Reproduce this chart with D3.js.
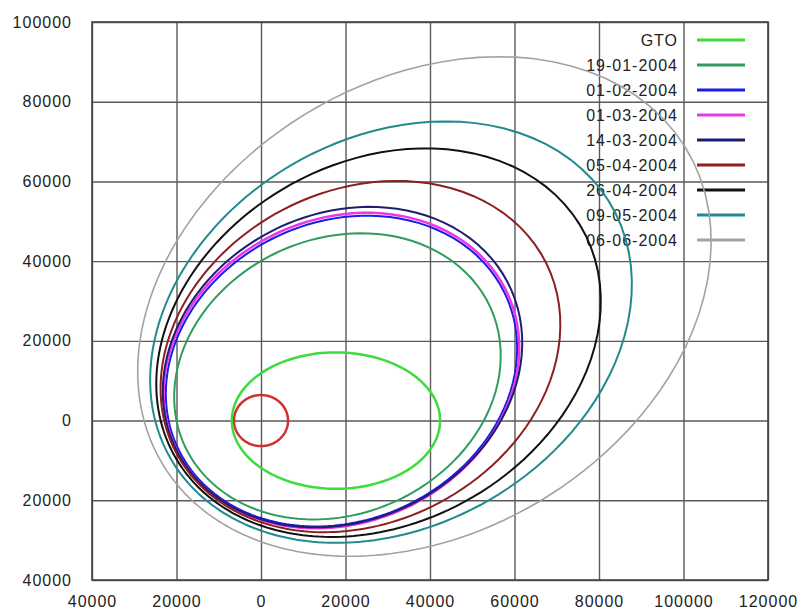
<!DOCTYPE html>
<html>
<head>
<meta charset="utf-8">
<script src="https://cdn.jsdelivr.net/npm/d3@7"></script>
<style>
  body { margin: 0; background: #fff; }
  text { font-family: "Liberation Sans", Arial, sans-serif; }
</style>
</head>
<body>
<script>
// orbit data (km)
let orbitNames = ["GTO", "19-01-2004", "01-02-2004", "01-03-2004", "14-03-2004",
    "05-04-2004", "26-04-2004", "09-05-2004", "06-06-2004"];
let perigee = [6900, 18980, 20650, 21110, 21100, 21460, 22120, 23230, 25530];
let apogee = [42400, 61430, 66140, 66730, 68100, 78460, 90130, 99120, 121770];
let argPerigee = [180, 211.5, 213.1, 213.4, 214.8, 214.3, 215.1, 215.8, 216.5];
let orbitColors = ["#3ddc3d", "#2f9d5e", "#1c1ce6", "#e838e8", "#1e1e70",
    "#8c2020", "#111111", "#22898f", "#a2a2a2"];
let orbitWidths = [2.5, 2, 2, 2.5, 2, 2, 2, 2, 1.6];
let earthRadius = 6400;

let xTicks = [-40000, -20000, 0, 20000, 40000, 60000, 80000, 100000, 120000];
let yTicks = [-40000, -20000, 0, 20000, 40000, 60000, 80000, 100000];

let svgWidth = 797;
let svgHeight = 612;
let margin = { top: 22, right: 29, bottom: 32, left: 92 };
let chartWidth = svgWidth - margin.left - margin.right;
let chartHeight = svgHeight - margin.top - margin.bottom;

let svg = d3.select("body")
    .append("svg")
    .attr("width", svgWidth)
    .attr("height", svgHeight);

let chartGroup = svg.append("g")
    .attr("transform", `translate(${margin.left}, ${margin.top})`);

let xScale = d3.scaleLinear().domain([-40000, 120000]).range([0, chartWidth]);
let yScale = d3.scaleLinear().domain([-40000, 100000]).range([chartHeight, 0]);

// grid + labels
let xAxis = chartGroup.append("g")
    .attr("transform", `translate(0, ${chartHeight})`)
    .call(d3.axisBottom(xScale).tickValues(xTicks)
        .tickSize(-chartHeight).tickPadding(16)
        .tickFormat(d => Math.abs(d)));

let yAxis = chartGroup.append("g")
    .call(d3.axisLeft(yScale).tickValues(yTicks)
        .tickSize(-chartWidth).tickPadding(20)
        .tickFormat(d => Math.abs(d)));

[xAxis, yAxis].forEach(function(ax) {
    ax.select(".domain").remove();
    ax.selectAll(".tick line").attr("stroke", "#5a5a5a").attr("stroke-width", 1.4);
    ax.selectAll(".tick text")
        .attr("fill", "#222")
        .style("font-size", "16px")
        .style("letter-spacing", "1px");
});

chartGroup.append("rect")
    .attr("width", chartWidth)
    .attr("height", chartHeight)
    .attr("fill", "none")
    .attr("stroke", "#444")
    .attr("stroke-width", 1.6);

// legend
let legend = chartGroup.append("g");
orbitNames.forEach(function(name, i) {
    let ly = 18 + i * 25;
    legend.append("text")
        .attr("x", 586)
        .attr("y", ly)
        .attr("dy", "0.35em")
        .attr("text-anchor", "end")
        .attr("fill", "#222")
        .style("font-size", "16px")
        .style("letter-spacing", "1px")
        .text(name);
    legend.append("line")
        .attr("x1", 605).attr("x2", 653)
        .attr("y1", ly).attr("y2", ly)
        .attr("stroke", orbitColors[i])
        .attr("stroke-width", 3);
});

// Earth
let thetas = d3.range(0, 360, 2);
let drawLine = d3.line()
    .x(p => xScale(p[0]))
    .y(p => yScale(p[1]))
    .curve(d3.curveLinearClosed);

chartGroup.append("path")
    .attr("d", drawLine(thetas.map(t => [earthRadius * Math.cos(t * Math.PI / 180),
        earthRadius * Math.sin(t * Math.PI / 180)])))
    .attr("fill", "none")
    .attr("stroke", "#d03030")
    .attr("stroke-width", 2.5);

// orbits, Earth at the focus
orbitNames.forEach(function(name, i) {
    let a = (perigee[i] + apogee[i]) / 2;
    let e = (apogee[i] - perigee[i]) / (apogee[i] + perigee[i]);
    let w = argPerigee[i] * Math.PI / 180;
    let pts = thetas.map(function(t) {
        let nu = t * Math.PI / 180;
        let r = a * (1 - e * e) / (1 + e * Math.cos(nu));
        return [r * Math.cos(nu + w), r * Math.sin(nu + w)];
    });
    chartGroup.append("path")
        .attr("d", drawLine(pts))
        .attr("fill", "none")
        .attr("stroke", orbitColors[i])
        .attr("stroke-width", orbitWidths[i]);
});
</script>
</body>
</html>
